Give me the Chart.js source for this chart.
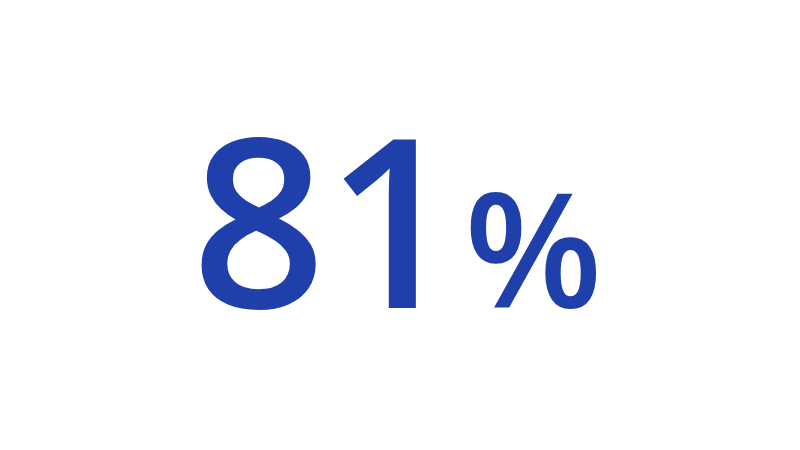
<!DOCTYPE html>
<html>
<head>
<meta charset="utf-8">
<script src="https://cdn.jsdelivr.net/npm/chart.js@4"></script>
<style>
html,body{margin:0;padding:0;background:#fff;}
#wrap{width:800px;height:450px;}
</style>
</head>
<body>
<div id="wrap"><canvas id="c" width="800" height="450"></canvas></div>
<script>
const categories = ['Share'];
const values = [81];
const suffix = '%';

const kpiPlugin = {
  id: 'kpi',
  afterDraw(chart) {
    const ctx = chart.ctx;
    const v = chart.data.datasets[0].data[0];
    const num = String(v);
    ctx.save();
    ctx.fillStyle = '#1f3faa';
    ctx.textBaseline = 'alphabetic';
    ctx.textAlign = 'left';
    const bigFont = '600 235px "Open Sans"';
    const smallFont = '600 160px "Open Sans"';
    ctx.font = bigFont;
    const w1 = ctx.measureText(num).width;
    ctx.font = smallFont;
    const w2 = ctx.measureText(suffix).width;
    const gap = 4;
    const total = w1 + gap + w2;
    const x0 = chart.width / 2 - total / 2 - 3;
    const baseY = 308;
    ctx.font = bigFont;
    ctx.fillText(num, x0, baseY);
    ctx.font = smallFont;
    ctx.fillText(suffix, x0 + w1 + gap, baseY);
    ctx.restore();
  }
};

new Chart(document.getElementById('c'), {
  type: 'bar',
  data: {
    labels: categories,
    datasets: [{ data: values, backgroundColor: 'rgba(0,0,0,0)', borderWidth: 0 }]
  },
  options: {
    responsive: false,
    animation: false,
    events: [],
    plugins: { legend: { display: false }, tooltip: { enabled: false } },
    scales: { x: { display: false }, y: { display: false, min: 0, max: 100 } }
  },
  plugins: [kpiPlugin]
});
</script>
</body>
</html>
